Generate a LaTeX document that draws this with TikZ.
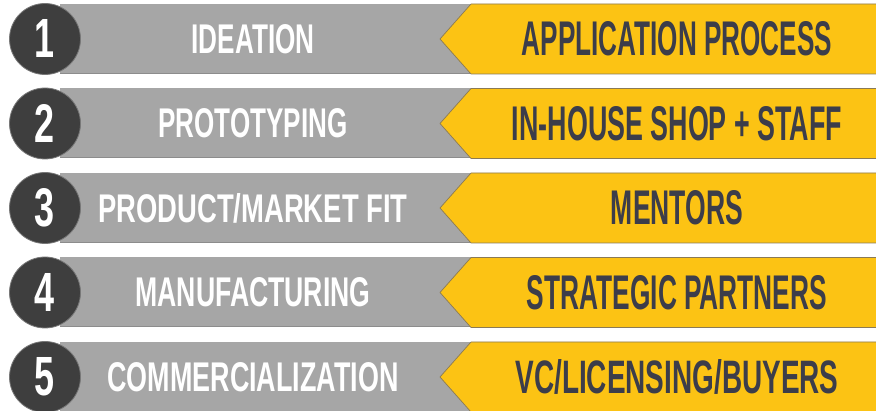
\documentclass[tikz,border=0pt]{standalone}
\usepackage{fontspec}
\setmainfont{Liberation Sans}
\usepackage{graphicx}
\definecolor{barg}{HTML}{A6A6A6}
\definecolor{barged}{HTML}{8C8C8C}
\definecolor{yel}{HTML}{FCC314}
\definecolor{yeled}{HTML}{8A7A55}
\definecolor{ink}{HTML}{3C3D4A}
\definecolor{disc}{HTML}{3E3E3E}
\tikzset{
  discnode/.style={circle, fill=disc, draw=disc!70!white, line width=0.8pt, minimum size=71pt, inner sep=0pt},
  numtext/.style={text=white, anchor=base, inner sep=0pt},
  graytext/.style={text=white, anchor=base, inner sep=0pt},
  yeltext/.style={text=ink, anchor=base, inner sep=0pt},
  graybar/.style={fill=barg},
  yelarrow/.style={fill=yel, draw=yeled, line width=0.7pt, line join=miter}
}
\newcommand\stagerow[6]{%
  \pgfmathsetmacro\rtop{4+84.5*#1}%
  \pgfmathsetmacro\rcen{\rtop+35}%
  \pgfmathsetmacro\rbot{\rtop+70}%
  \fill[graybar] (60,\rtop) rectangle (480,\rbot);
  \draw[barged, line width=1.2pt] (60,\rbot-0.6) -- (480,\rbot-0.6);
  \filldraw[yelarrow] (440,\rcen) -- (471,\rtop) -- (880,\rtop) -- (880,\rbot) -- (471,\rbot) -- cycle;
  \node[discnode] (c#2) at (45,\rcen) {};
  \node[numtext] (d#2) at (45,\rcen+19) {\resizebox{20pt}{38pt}{\bfseries #2}};
  \node[graytext] (l#2) at (253,\rcen+14.5) {\resizebox{#4pt}{29pt}{\bfseries #3}};
  \node[yeltext] (r#2) at (677,\rcen+17) {\resizebox{#6pt}{34pt}{\bfseries #5}};
}
\begin{document}
\begin{tikzpicture}[x=1pt,y=-1pt]
\fill[white] (0,0) rectangle (876,411);
\useasboundingbox (0,0) rectangle (876,411);
\stagerow{0}{1}{IDEATION}{123}{APPLICATION PROCESS}{310}
\stagerow{1}{2}{PROTOTYPING}{189}{IN-HOUSE SHOP + STAFF}{330}
\stagerow{2}{3}{PRODUCT/MARKET FIT}{309}{MENTORS}{132}
\stagerow{3}{4}{MANUFACTURING}{235}{STRATEGIC PARTNERS}{300}
\stagerow{4}{5}{COMMERCIALIZATION}{291}{VC/LICENSING/BUYERS}{323}
\end{tikzpicture}
\end{document}
